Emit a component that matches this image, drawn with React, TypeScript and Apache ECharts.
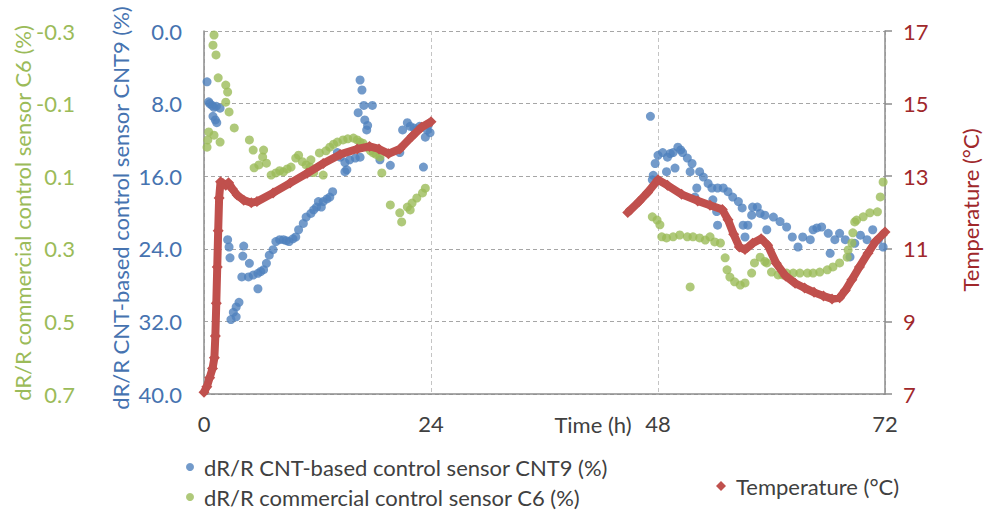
import React, { useEffect, useRef } from "react";
import * as echarts from "echarts";

// ---- data ----
const timeTicks = [0, 24, 48, 72];

// CNT9 sensor (dR/R %, left inner axis, inverted)
const cnt9First: [number, number][] = [
  [0.32, 5.6], [0.5, 7.8], [0.6, 8.0], [0.85, 8.2], [1.05, 8.4], [1.3, 8.3], [1.7, 8.5], [0.95, 9.4], [1.2, 9.8], [1.35, 10.1],
  [2.5, 23.0], [2.65, 23.8], [2.75, 25.0], [2.85, 31.8], [3.1, 31.0], [3.4, 30.4], [3.4, 31.5], [3.7, 29.9], [4.0, 27.1],
  [4.1, 24.8], [4.2, 23.7], [4.7, 27.1], [4.8, 25.6], [5.2, 26.9], [5.7, 26.7], [5.7, 28.4], [6.0, 26.5], [6.3, 26.3],
  [6.6, 25.6], [6.9, 24.7], [7.3, 24.1], [7.6, 23.2], [8.0, 23.0], [8.4, 23.0], [8.7, 23.1], [9.0, 23.2], [9.4, 22.9],
  [9.7, 22.7], [10.0, 21.9], [10.5, 21.2], [10.8, 20.5], [11.3, 20.1], [11.6, 19.7], [11.9, 19.4], [12.1, 18.8], [12.4, 19.4],
  [12.6, 18.8], [13.0, 18.5], [13.3, 18.3], [13.6, 17.7], [14.1, 13.4], [14.4, 13.9], [14.9, 15.5], [14.9, 14.5], [15.1, 15.3],
  [15.4, 14.2], [16.0, 14.0], [16.5, 13.9], [16.3, 9.0], [16.5, 5.4], [16.7, 6.5], [16.9, 8.2], [17.0, 9.8], [17.2, 10.9],
  [17.3, 10.4], [17.8, 8.2], [18.6, 14.2], [19.7, 14.8], [20.7, 13.4], [21.0, 10.9], [21.5, 10.1], [21.8, 10.5], [22.2, 10.7],
  [22.5, 10.9], [22.8, 10.5], [23.2, 15.0], [23.4, 11.7], [23.6, 10.9], [23.7, 10.4], [23.9, 11.2],
];
const cnt9Second: [number, number][] = [
  [47.2, 9.4], [47.4, 16.4], [47.5, 15.9], [47.7, 14.6], [48.0, 13.7], [48.5, 13.4], [48.9, 15.5], [49.0, 13.9], [49.3, 13.5],
  [49.6, 13.4], [49.8, 15.1], [50.1, 12.8], [50.4, 13.1], [50.6, 13.4], [51.1, 14.0], [51.4, 15.5], [51.6, 14.6], [51.9, 18.3],
  [52.1, 17.3], [52.4, 15.5], [52.8, 16.1], [53.3, 16.8], [53.7, 17.3], [53.8, 18.6], [54.2, 19.9], [54.3, 21.4], [54.3, 17.3],
  [54.9, 17.3], [55.4, 17.7], [55.9, 18.3], [56.5, 18.8], [56.9, 19.5], [57.0, 21.4], [57.2, 22.7], [57.5, 21.4], [57.9, 20.3],
  [58.0, 19.4], [58.5, 19.4], [58.8, 20.1], [59.3, 20.3], [59.5, 21.9], [60.2, 20.5], [60.9, 21.0], [61.6, 21.6], [62.2, 22.7],
  [62.8, 23.8], [63.3, 22.7], [64.1, 23.0], [64.4, 21.9], [64.8, 21.7], [65.3, 21.6], [66.0, 22.3], [66.2, 24.5], [66.7, 23.0],
  [67.2, 22.3], [67.8, 23.0], [68.3, 24.9], [68.8, 23.4], [69.4, 22.5], [70.1, 23.0], [70.7, 21.9], [71.3, 23.0], [71.8, 23.8],
];

// C6 commercial sensor (dR/R %, left outer axis, inverted)
const c6First: [number, number][] = [
  [0.32, 0.02], [0.4, 0.0], [0.5, -0.022], [0.95, -0.261], [1.06, -0.289], [1.06, -0.013], [1.27, -0.234], [1.5, -0.171],
  [1.7, 0.006], [2.3, -0.151], [2.5, -0.132], [2.3, -0.104], [2.65, -0.077], [3.2, -0.033], [4.8, 0.0], [5.2, 0.028],
  [5.3, 0.077], [5.8, 0.069], [6.2, 0.047], [6.3, 0.028], [6.6, 0.064], [7.1, 0.097], [7.6, 0.091], [8.0, 0.085], [8.4, 0.088],
  [8.8, 0.08], [9.2, 0.075], [9.7, 0.05], [10.0, 0.042], [10.4, 0.06], [10.8, 0.069], [11.2, 0.075], [11.3, 0.055], [11.6, 0.09],
  [12.2, 0.036], [12.6, 0.097], [12.9, 0.03], [13.3, 0.02], [13.7, 0.012], [14.1, 0.006], [14.7, 0.0], [15.2, -0.003],
  [15.8, -0.005], [16.2, 0.0], [16.5, 0.006], [16.8, 0.009], [17.2, 0.02], [17.6, 0.03], [17.9, 0.036], [18.2, 0.04],
  [18.6, 0.047], [18.8, 0.091], [19.7, 0.179], [20.7, 0.201], [20.9, 0.226], [21.5, 0.185], [21.8, 0.193], [22.0, 0.174],
  [22.5, 0.16], [23.1, 0.146], [23.4, 0.133],
];
const c6Second: [number, number][] = [
  [47.4, 0.212], [47.9, 0.221], [48.2, 0.234], [48.4, 0.267], [48.9, 0.27], [49.6, 0.267], [50.3, 0.262], [51.1, 0.267],
  [51.4, 0.405], [51.7, 0.267], [52.4, 0.27], [53.0, 0.276], [53.5, 0.267], [54.0, 0.281], [54.6, 0.284], [55.1, 0.325],
  [55.3, 0.358], [55.6, 0.378], [56.1, 0.391], [56.7, 0.4], [57.2, 0.394], [57.9, 0.367], [58.2, 0.339], [58.8, 0.323],
  [59.3, 0.335], [59.5, 0.339], [60.0, 0.364], [60.7, 0.372], [61.2, 0.372], [61.6, 0.367], [62.3, 0.367], [63.0, 0.367],
  [63.8, 0.367], [64.4, 0.367], [65.1, 0.364], [65.9, 0.358], [66.5, 0.35], [67.2, 0.339], [68.0, 0.323], [68.1, 0.303],
  [68.5, 0.284], [68.6, 0.256], [68.8, 0.226], [69.0, 0.221], [69.7, 0.212], [70.4, 0.201], [71.2, 0.198], [71.5, 0.157],
  [71.8, 0.116],
];

// Temperature (°C, right axis)
const tempFirst: [number, number][] = [
  [0, 7.05], [0.3, 7.2], [0.6, 7.45], [0.9, 7.7], [1.1, 8.0], [1.2, 8.6], [1.3, 9.5], [1.4, 10.5], [1.5, 11.5], [1.6, 12.4],
  [1.75, 12.85], [2.0, 12.8], [2.3, 12.75], [2.6, 12.82], [3.0, 12.65], [3.5, 12.48], [4.2, 12.34], [5.0, 12.27], [5.6, 12.3],
  [7.3, 12.54], [9.1, 12.81], [10.9, 13.08], [12.6, 13.35], [14.4, 13.6], [16.2, 13.75], [17.5, 13.82], [18.5, 13.75],
  [19.5, 13.62], [20.7, 13.75], [22.0, 14.1], [23.0, 14.35], [24.0, 14.5],
];
const tempSecond: [number, number][] = [
  [44.8, 12.0], [46.0, 12.3], [46.9, 12.55], [48.0, 12.9], [49.0, 12.75], [50.5, 12.5], [52.2, 12.32], [53.5, 12.2],
  [54.8, 12.08], [55.4, 11.8], [56.0, 11.4], [56.6, 11.05], [57.2, 10.98], [58.0, 11.15], [58.9, 11.28], [59.6, 11.1],
  [60.5, 10.6], [61.5, 10.25], [62.5, 10.05], [63.5, 9.92], [64.5, 9.8], [65.5, 9.7], [66.4, 9.62], [67.2, 9.65], [67.8, 9.85],
  [68.5, 10.15], [69.3, 10.5], [70.2, 10.88], [71.0, 11.2], [72.0, 11.46],
];

const NAME_CNT = "dR/R CNT-based control sensor CNT9 (%)";
const NAME_C6 = "dR/R commercial control sensor C6 (%)";
const NAME_T = "Temperature (°C)";

const BLUE = "#4F81BD";
const GREEN = "#9BBB59";
const RED = "#C0504D";
const BLUE_TEXT = "#4673B0";
const RED_TEXT = "#A0282B";
const GREY_TEXT = "#404040";
const AXIS = "#8C8C8C";
const FONT = "Lato";
const FS = 22;

const legendText = { fontSize: FS, color: GREY_TEXT, fontFamily: FONT, lineHeight: 22, padding: [0, 0, 0, 5] };

export default function App() {
  const ref = useRef<HTMLDivElement>(null);
  useEffect(() => {
    if (!ref.current) return;
    const chart = echarts.init(ref.current, null, { renderer: "svg" });
    const option: any = {
      animation: false,
      textStyle: { fontFamily: FONT },
      grid: { left: 204, right: 99, top: 31, bottom: 122 },
      xAxis: {
        type: "value",
        min: timeTicks[0],
        max: timeTicks[timeTicks.length - 1],
        interval: 24,
        axisLine: { show: true, onZero: false, lineStyle: { color: AXIS, width: 1.5 } },
        axisTick: { show: false },
        axisLabel: { margin: 18, fontSize: FS, color: GREY_TEXT, fontFamily: FONT },
        splitLine: { show: true, lineStyle: { type: [4, 3], color: "#C4C4C4", width: 1 } },
      },
      yAxis: [
        {
          type: "value",
          position: "left",
          min: -0.3,
          max: 0.7,
          interval: 0.2,
          inverse: true,
          axisLine: { show: false, onZero: false },
          axisTick: { show: false },
          splitLine: { show: false },
          axisLabel: {
            margin: 129,
            fontSize: FS,
            color: GREEN,
            fontFamily: FONT,
            formatter: (v: number) => v.toFixed(1),
          },
        },
        {
          type: "value",
          position: "left",
          min: 0,
          max: 40,
          interval: 8,
          inverse: true,
          axisLine: { show: true, onZero: false, lineStyle: { color: AXIS, width: 1.5 } },
          axisTick: { show: false },
          splitLine: { show: true, lineStyle: { type: [4, 3], color: "#A6A6A6", width: 1 } },
          axisLabel: {
            margin: 22,
            fontSize: FS,
            color: BLUE_TEXT,
            fontFamily: FONT,
            formatter: (v: number) => v.toFixed(1),
          },
        },
        {
          type: "value",
          position: "right",
          min: 7,
          max: 17,
          interval: 2,
          axisLine: { show: true, onZero: false, lineStyle: { color: AXIS, width: 1.5 } },
          axisTick: { show: true, inside: false, length: 7, lineStyle: { color: AXIS, width: 1.5 } },
          splitLine: { show: false },
          axisLabel: { margin: 18, fontSize: FS, color: RED_TEXT, fontFamily: FONT },
        },
      ],
      legend: [
        {
          data: [{ name: NAME_CNT, icon: "circle" }],
          left: 186,
          top: 456,
          padding: 0,
          itemWidth: 8,
          itemHeight: 8,
          textStyle: legendText,
        },
        {
          data: [{ name: NAME_C6, icon: "circle" }],
          left: 186,
          top: 486,
          padding: 0,
          itemWidth: 8,
          itemHeight: 8,
          textStyle: legendText,
        },
        {
          data: [{ name: NAME_T, icon: "diamond" }],
          left: 716,
          top: 475,
          padding: 0,
          itemWidth: 10,
          itemHeight: 10,
          textStyle: legendText,
        },
      ],
      graphic: [
        {
          type: "text",
          x: 22,
          y: 213,
          rotation: Math.PI / 2,
          style: { text: NAME_C6, fill: GREEN, fontSize: FS, fontFamily: FONT, align: "center", verticalAlign: "middle" },
        },
        {
          type: "text",
          x: 120,
          y: 208,
          rotation: Math.PI / 2,
          style: { text: NAME_CNT, fill: BLUE_TEXT, fontSize: FS, fontFamily: FONT, align: "center", verticalAlign: "middle" },
        },
        {
          type: "text",
          x: 970,
          y: 210,
          rotation: Math.PI / 2,
          style: { text: NAME_T, fill: RED_TEXT, fontSize: FS, fontFamily: FONT, align: "center", verticalAlign: "middle" },
        },
        {
          type: "text",
          x: 593,
          y: 424,
          style: { text: "Time (h)", fill: GREY_TEXT, fontSize: FS, fontFamily: FONT, align: "center", verticalAlign: "middle" },
        },
      ],
      series: [
        {
          name: NAME_CNT,
          type: "scatter",
          yAxisIndex: 1,
          symbol: "circle",
          symbolSize: 9,
          itemStyle: { color: BLUE },
          data: [...cnt9First, ...cnt9Second],
          z: 2,
        },
        {
          name: NAME_C6,
          type: "scatter",
          yAxisIndex: 0,
          symbol: "circle",
          symbolSize: 9,
          itemStyle: { color: GREEN },
          data: [...c6First, ...c6Second],
          z: 3,
        },
        {
          name: NAME_T,
          type: "line",
          yAxisIndex: 2,
          symbol: "diamond",
          symbolSize: 11,
          showSymbol: true,
          lineStyle: { color: RED, width: 8 },
          itemStyle: { color: RED },
          data: tempFirst,
          z: 4,
        },
        {
          name: NAME_T,
          type: "line",
          yAxisIndex: 2,
          symbol: "diamond",
          symbolSize: 11,
          showSymbol: true,
          lineStyle: { color: RED, width: 8 },
          itemStyle: { color: RED },
          data: tempSecond,
          z: 4,
        },
      ],
    };
    chart.setOption(option);
    return () => chart.dispose();
  }, []);
  return (
    <div
      ref={ref}
      style={{ position: "fixed", left: 0, top: 0, width: 984, height: 516, background: "#fff" }}
    />
  );
}
